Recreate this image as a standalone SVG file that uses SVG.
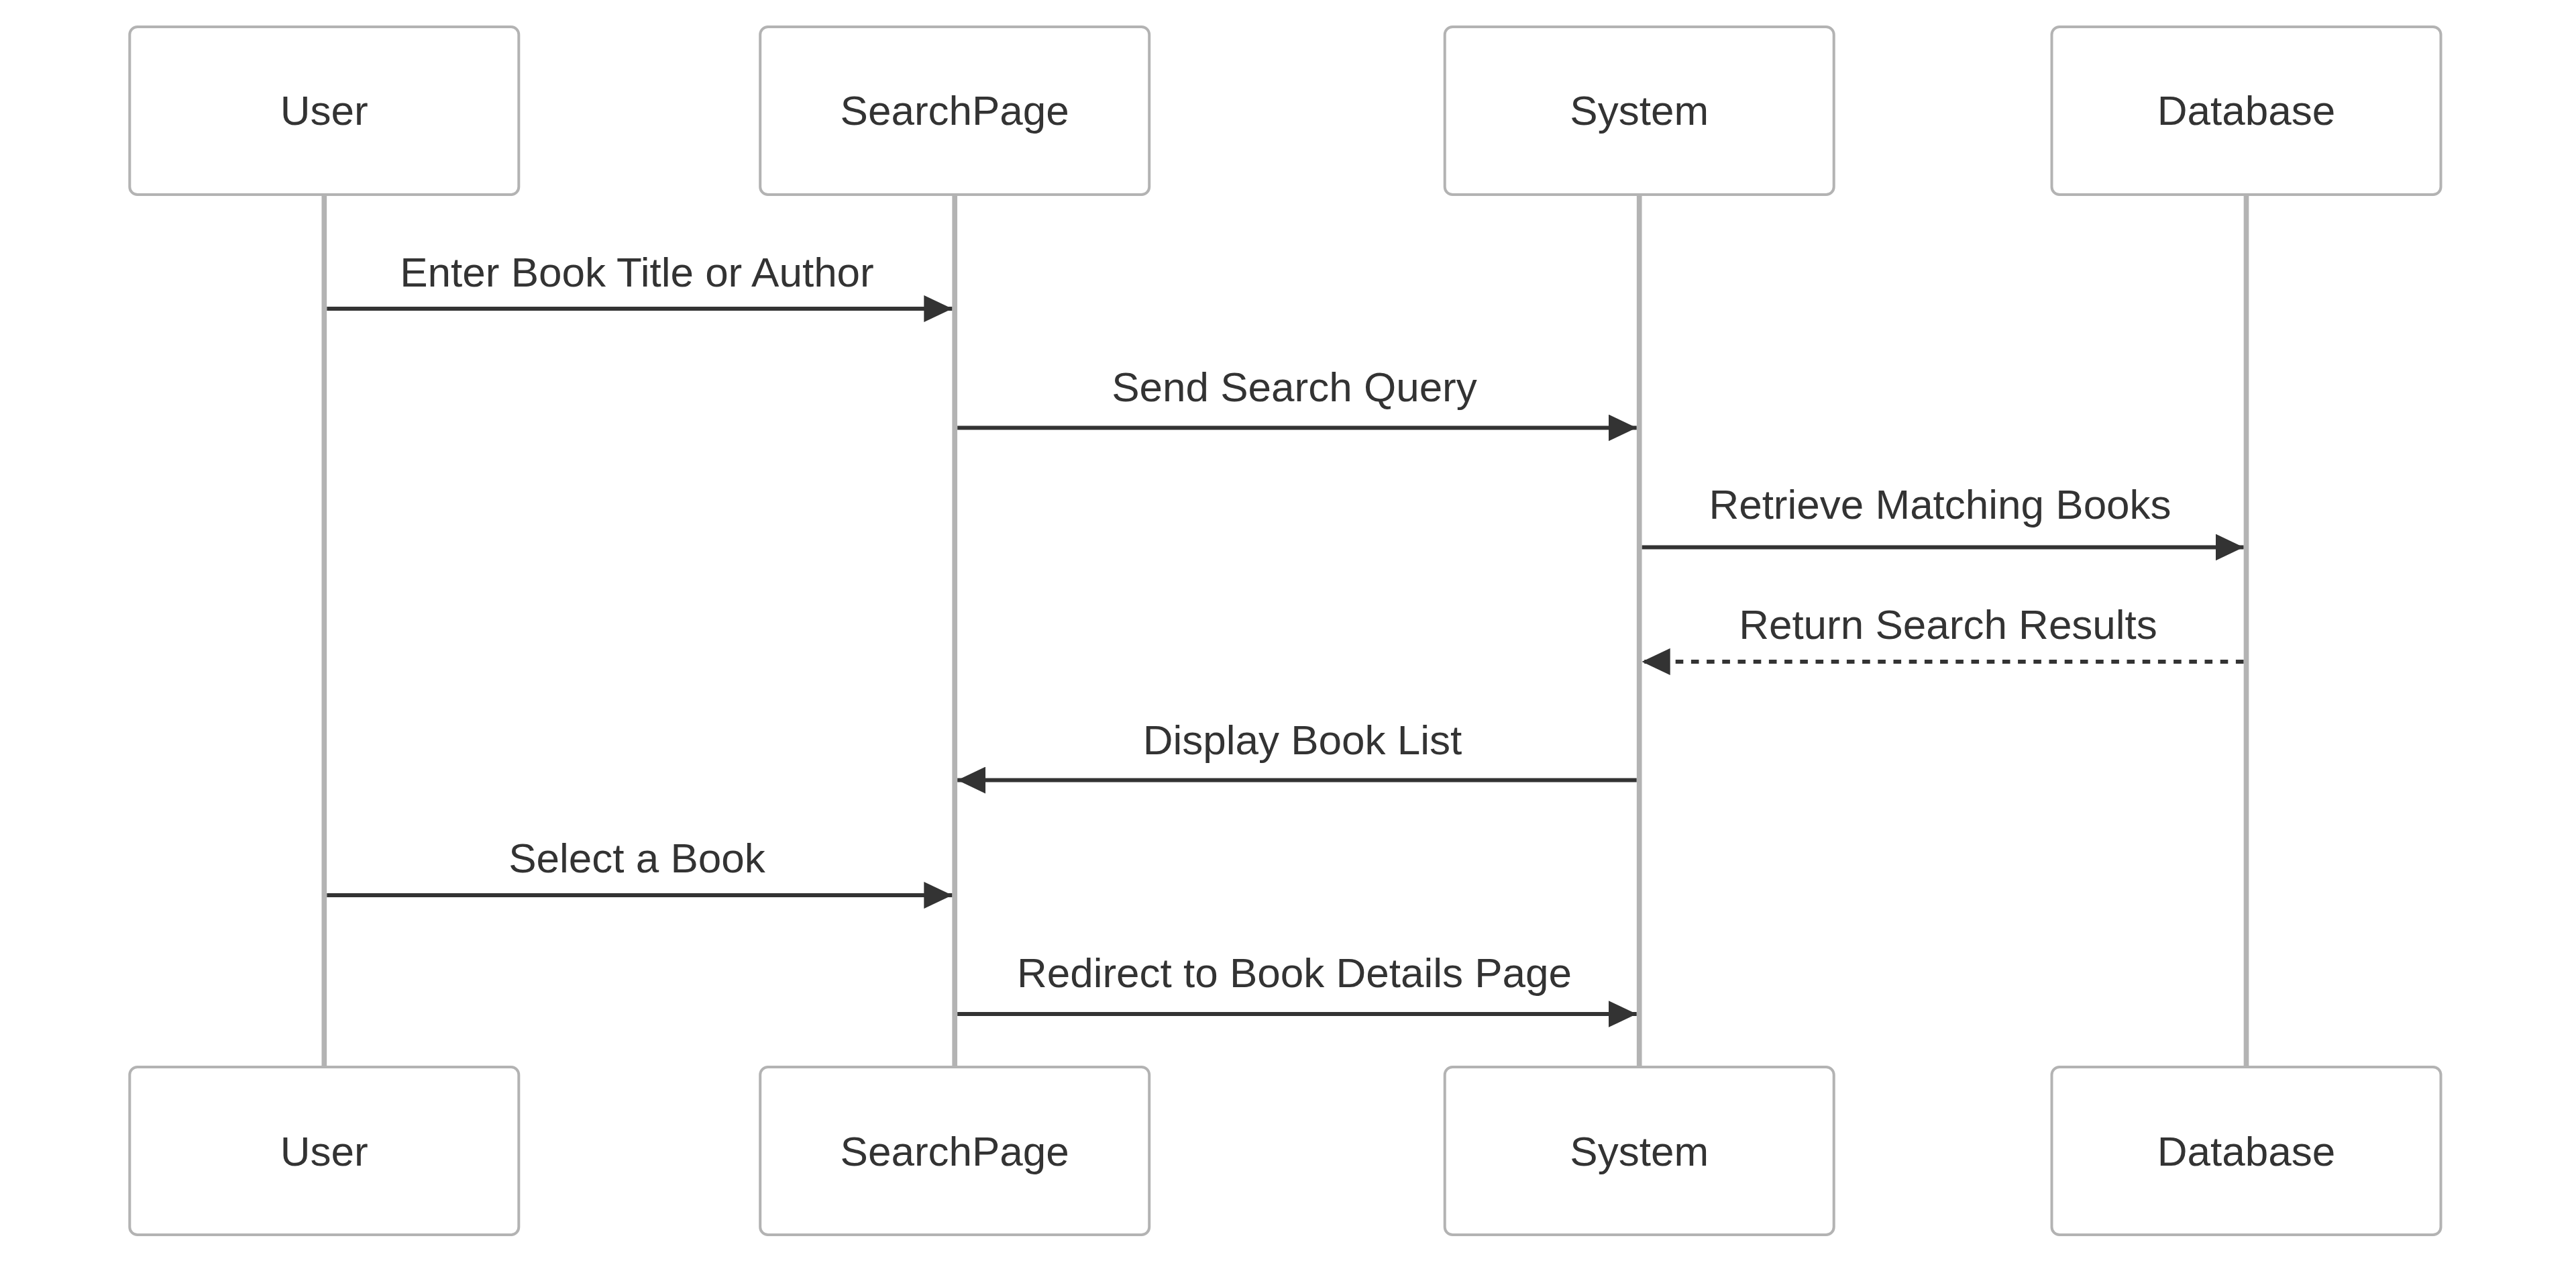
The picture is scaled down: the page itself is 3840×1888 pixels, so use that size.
<svg xmlns="http://www.w3.org/2000/svg" width="3840" height="1888" viewBox="0 0 3840 1888">
<style>
  .actor { fill: #ffffff; stroke: #b3b3b3; stroke-width: 4; }
  .lifeline { stroke: #b3b3b3; stroke-width: 7.7; fill: none; }
  .atext { font-family: "Liberation Sans", Arial, sans-serif; font-size: 62px; fill: #333333; text-anchor: middle; }
  .mtext { font-family: "Liberation Sans", Arial, sans-serif; font-size: 62px; fill: #333333; text-anchor: middle; }
  .msg { stroke: #333333; stroke-width: 5.8; fill: none; }
  .dashed { stroke-dasharray: 11.6 11.6; }
</style>
<defs>
  <marker id="arrow" markerUnits="userSpaceOnUse" markerWidth="42" markerHeight="40" refX="42" refY="20" orient="auto">
    <path d="M0,0 L42,20 L0,40 Z" fill="#333333"/>
  </marker>
</defs>
<rect width="3840" height="1888" fill="#ffffff"/>

<g id="lifelines">
  <line class="lifeline" x1="483.3" y1="292" x2="483.3" y2="1588"/>
  <line class="lifeline" x1="1423.2" y1="292" x2="1423.2" y2="1588"/>
  <line class="lifeline" x1="2443.7" y1="292" x2="2443.7" y2="1588"/>
  <line class="lifeline" x1="3348.5" y1="292" x2="3348.5" y2="1588"/>
</g>

<g id="actor-User">
  <rect class="actor" x="193.3" y="40" width="580" height="250" rx="11.6" ry="11.6"/>
  <text class="atext" x="483.3" y="186">User</text>
  <rect class="actor" x="193.3" y="1590" width="580" height="250" rx="11.6" ry="11.6"/>
  <text class="atext" x="483.3" y="1737">User</text>
</g>
<g id="actor-SearchPage">
  <rect class="actor" x="1133.2" y="40" width="580" height="250" rx="11.6" ry="11.6"/>
  <text class="atext" x="1423.2" y="186">SearchPage</text>
  <rect class="actor" x="1133.2" y="1590" width="580" height="250" rx="11.6" ry="11.6"/>
  <text class="atext" x="1423.2" y="1737">SearchPage</text>
</g>
<g id="actor-System">
  <rect class="actor" x="2153.7" y="40" width="580" height="250" rx="11.6" ry="11.6"/>
  <text class="atext" x="2443.7" y="186">System</text>
  <rect class="actor" x="2153.7" y="1590" width="580" height="250" rx="11.6" ry="11.6"/>
  <text class="atext" x="2443.7" y="1737">System</text>
</g>
<g id="actor-Database">
  <rect class="actor" x="3058.5" y="40" width="580" height="250" rx="11.6" ry="11.6"/>
  <text class="atext" x="3348.5" y="186">Database</text>
  <rect class="actor" x="3058.5" y="1590" width="580" height="250" rx="11.6" ry="11.6"/>
  <text class="atext" x="3348.5" y="1737">Database</text>
</g>

<g id="connectors">
  <text class="mtext" x="949.5" y="427">Enter Book Title or Author</text>
  <line class="msg" x1="487.3" y1="460" x2="1419.3" y2="460" marker-end="url(#arrow)"/>

  <text class="mtext" x="1929.5" y="598">Send Search Query</text>
  <line class="msg" x1="1427.2" y1="637.5" x2="2439.7" y2="637.5" marker-end="url(#arrow)"/>

  <text class="mtext" x="2892" y="773">Retrieve Matching Books</text>
  <line class="msg" x1="2447.7" y1="815.5" x2="3344.5" y2="815.5" marker-end="url(#arrow)"/>

  <text class="mtext" x="2904" y="952">Return Search Results</text>
  <line class="msg dashed" x1="3344.5" y1="986" x2="2447.7" y2="986" marker-end="url(#arrow)"/>

  <text class="mtext" x="1941.5" y="1124">Display Book List</text>
  <line class="msg" x1="2439.7" y1="1162.5" x2="1427.2" y2="1162.5" marker-end="url(#arrow)"/>

  <text class="mtext" x="949.5" y="1300">Select a Book</text>
  <line class="msg" x1="487.3" y1="1334" x2="1419.3" y2="1334" marker-end="url(#arrow)"/>

  <text class="mtext" x="1929.5" y="1471">Redirect to Book Details Page</text>
  <line class="msg" x1="1427.2" y1="1511" x2="2439.7" y2="1511" marker-end="url(#arrow)"/>
</g>
</svg>
